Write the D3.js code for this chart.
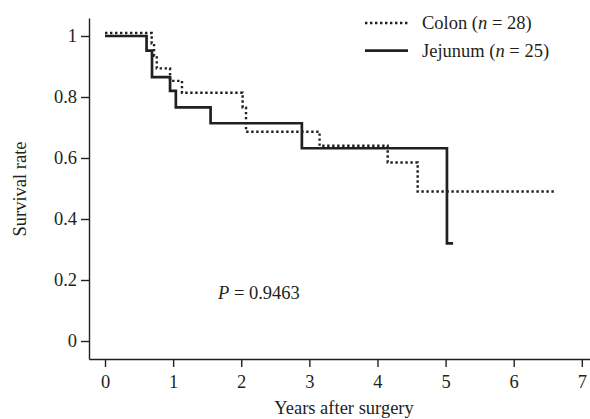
<!DOCTYPE html>
<html lang="en">
<head>
<meta charset="UTF-8">
<title>Survival</title>
<style>
body { margin: 0; background: #fff; }
svg text { font-family: 'Liberation Serif', 'Times New Roman', serif; fill: #231f20; }
.axis path, .axis line { stroke: #231f20; stroke-width: 1.4; }
.axis text { font-size: 18.5px; }
</style>
</head>
<body>
<div id="chart"></div>
<script src="https://cdnjs.cloudflare.com/ajax/libs/d3/7.8.5/d3.min.js"></script>
<script>
// Kaplan-Meier steps (time in years, survival after each step)
var colonTime = [0, 0.685, 0.72, 0.76, 0.955, 1.13, 2.02, 2.07, 3.15, 4.15, 4.59, 6.59];
var colonSurv = [1.01, 0.975, 0.935, 0.894, 0.853, 0.814, 0.765, 0.686, 0.640, 0.585, 0.49, 0.49];

var jejTime = [0, 0.61, 0.69, 0.955, 1.04, 1.55, 2.89, 5.02, 5.11];
var jejSurv = [1.0, 0.952, 0.865, 0.82, 0.766, 0.714, 0.632, 0.32, 0.32];

var xTicks = [0, 1, 2, 3, 4, 5, 6, 7];
var yTicks = [0, 0.2, 0.4, 0.6, 0.8, 1];

var groups = ['Colon', 'Jejunum'];
var groupN = [28, 25];

var width = 590, height = 419;
var dots = '2.4,2.6';

var svg = d3.select('#chart')
  .append('svg')
  .attr('width', width)
  .attr('height', height);

var x = d3.scaleLinear().domain([-0.235, 7.12]).range([89, 590]);
var y = d3.scaleLinear().domain([-0.059, 1.059]).range([359, 18]);

svg.append('g')
  .attr('class', 'axis')
  .attr('transform', 'translate(0,359)')
  .call(d3.axisBottom(x).tickValues(xTicks).tickSize(8).tickSizeOuter(0).tickPadding(8).tickFormat(d3.format('d')));

svg.append('g')
  .attr('class', 'axis')
  .attr('transform', 'translate(89,0)')
  .call(d3.axisLeft(y).tickValues(yTicks).tickSize(8).tickSizeOuter(0).tickPadding(4)
    .tickFormat(function (d) { return (d === 0 || d === 1) ? d : d.toFixed(1); }));

svg.selectAll('.axis text').attr('fill', '#231f20');

// axis titles
svg.append('text')
  .attr('x', 344).attr('y', 414)
  .attr('text-anchor', 'middle')
  .style('font-size', '18.5px')
  .text('Years after surgery');

svg.append('text')
  .attr('transform', 'translate(26,189) rotate(-90)')
  .attr('text-anchor', 'middle')
  .style('font-size', '18.5px')
  .text('Survival rate');

var line = d3.line()
  .x(function (d) { return x(d[0]); })
  .y(function (d) { return y(d[1]); })
  .curve(d3.curveStepAfter);

var colonData = colonTime.map(function (t, i) { return [t, colonSurv[i]]; });
var jejData = jejTime.map(function (t, i) { return [t, jejSurv[i]]; });

svg.append('path')
  .datum(jejData)
  .attr('d', line)
  .attr('fill', 'none')
  .attr('stroke', '#231f20')
  .attr('stroke-width', 2.7);

svg.append('path')
  .datum(colonData)
  .attr('d', line)
  .attr('fill', 'none')
  .attr('stroke', '#231f20')
  .attr('stroke-width', 2.4)
  .attr('stroke-dasharray', dots);

// p value
var p = svg.append('text')
  .attr('x', 218).attr('y', 299)
  .style('font-size', '18.5px');
p.append('tspan').style('font-style', 'italic').text('P');
p.append('tspan').text(' = 0.9463');

// legend
var legend = svg.selectAll('.legend')
  .data(groups)
  .enter()
  .append('g')
  .attr('class', 'legend')
  .attr('transform', function (d, i) { return 'translate(365,' + (23 + i * 27.7) + ')'; });

legend.append('line')
  .attr('x1', 0).attr('x2', 43)
  .attr('y1', 0).attr('y2', 0)
  .attr('stroke', '#231f20')
  .attr('stroke-width', function (d, i) { return i === 0 ? 2.4 : 2.7; })
  .attr('stroke-dasharray', function (d, i) { return i === 0 ? dots : null; });

var lt = legend.append('text')
  .attr('x', 57).attr('y', 6)
  .style('font-size', '18.5px');
lt.append('tspan').text(function (d) { return d + ' ('; });
lt.append('tspan').style('font-style', 'italic').text('n');
lt.append('tspan').text(function (d, i) { return ' = ' + groupN[i] + ')'; });
</script>
</body>
</html>
